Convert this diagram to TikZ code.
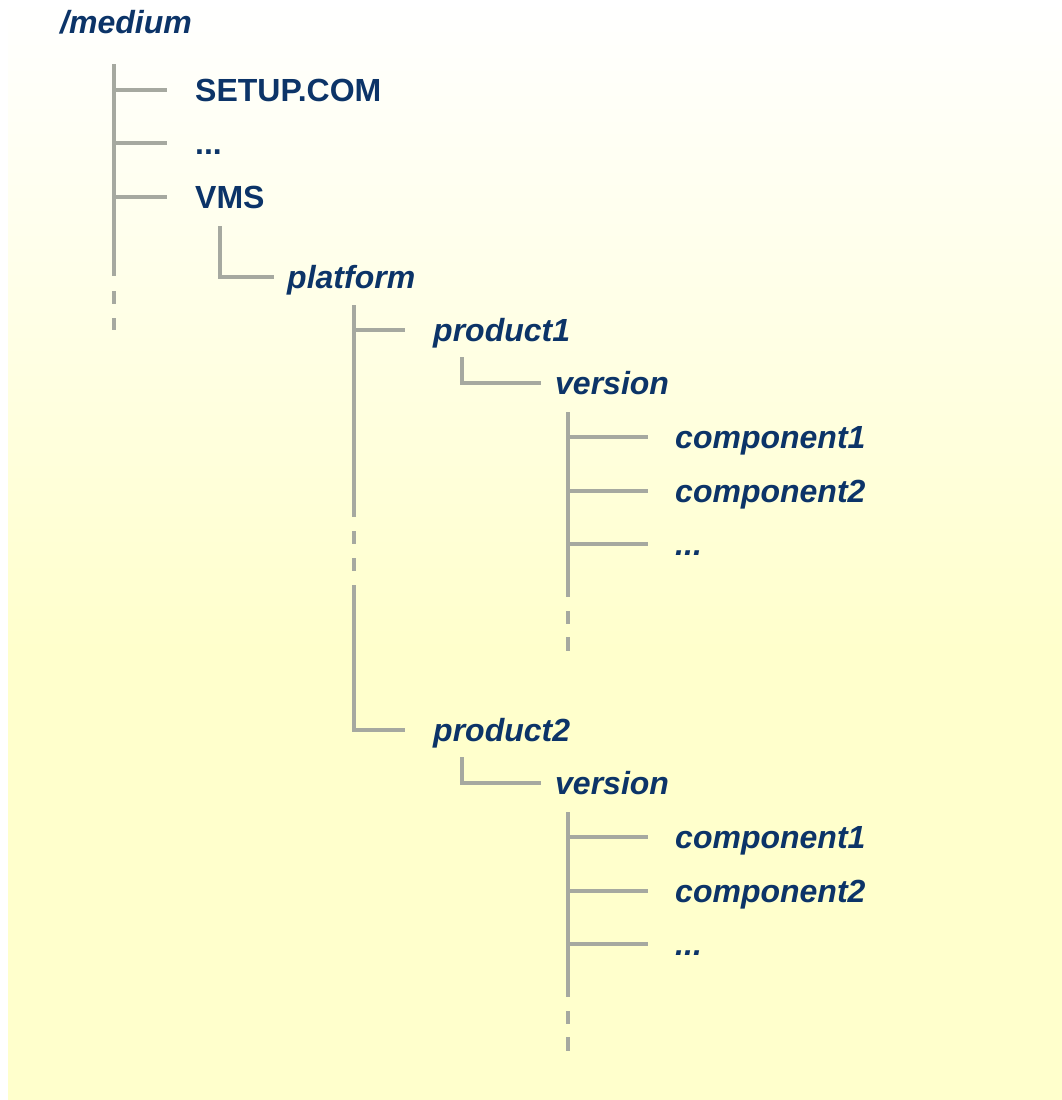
\documentclass[tikz,border=0pt]{standalone}
\usepackage{fontspec}
\setmainfont{Liberation Sans}
\usetikzlibrary{calc}
\definecolor{txt}{RGB}{12,52,104}
\definecolor{ln}{RGB}{166,169,160}
\definecolor{bgy}{RGB}{255,255,204}
\begin{document}
\begin{tikzpicture}[x=1pt,y=-1pt,
  lbl/.style={anchor=base west, inner sep=0pt, text=txt, font=\fontsize{32}{36}\selectfont\bfseries},
  ilbl/.style={lbl, font=\fontsize{32}{36}\selectfont\bfseries\itshape},
  br/.style={draw=ln, line width=4pt}]
\useasboundingbox (0,0) rectangle (1062,1100);
\shade[top color=white, bottom color=bgy] (8,0) rectangle (1062,650);
\fill[bgy] (8,649) rectangle (1062,1100);

% root level
\node[ilbl] (medium) at (60,33) {/medium};
\node[lbl] (setup) at (195,101) {SETUP.COM};
\node[lbl] (dots0) at (195,154) {...};
\node[lbl] (vms) at (195,208) {VMS};
\node[ilbl] (platform) at (287,288) {platform};

\coordinate (mtop) at (114,64);
\coordinate (mbot) at (114,276);
\draw[br] (mtop) -- (mbot);
\draw[br] ($(mbot)+(0,15)$) -- ($(mbot)+(0,28)$);
\draw[br] ($(mbot)+(0,42)$) -- ($(mbot)+(0,54)$);
\foreach \n in {setup,dots0,vms}
  \draw[br] ($(mtop |- \n.base)+(0,-11)$) -- ($(\n.base west)+(-28,-11)$);
\draw[br] ($(vms.base west)+(25,18)$) |- ($(platform.base west)+(-13,-11)$);

% products
\foreach \i/\dy in {1/0,2/400}{
  \node[ilbl] (prod\i) at (433,341+\dy) {product\i};
  \node[ilbl] (ver\i) at (555,394+\dy) {version};
  \node[ilbl] (c\i a) at (675,448+\dy) {component1};
  \node[ilbl] (c\i b) at (675,502+\dy) {component2};
  \node[ilbl] (d\i) at (675,555+\dy) {...};
  \draw[br] ($(prod\i.base west)+(29,16)$) |- ($(ver\i.base west)+(-14,-11)$);
  \coordinate (v\i top) at ($(ver\i.base west)+(13,18)$);
  \coordinate (v\i bot) at ($(ver\i.base west)+(13,203)$);
  \draw[br] (v\i top) -- (v\i bot);
  \draw[br] ($(v\i bot)+(0,14)$) -- ($(v\i bot)+(0,27)$);
  \draw[br] ($(v\i bot)+(0,40)$) -- ($(v\i bot)+(0,54)$);
  \foreach \n in {c\i a,c\i b,d\i}
    \draw[br] ($(v\i top |- \n.base)+(0,-11)$) -- ($(\n.base west)+(-27,-11)$);
}

% platform trunk
\coordinate (ptop) at ($(platform.base west)+(67,17)$);
\coordinate (pbrk) at ($(ptop)+(0,212)$);
\coordinate (pres) at ($(ptop)+(0,280)$);
\draw[br] (ptop) -- (pbrk);
\draw[br] ($(ptop)+(0,226)$) -- ($(ptop)+(0,239)$);
\draw[br] ($(ptop)+(0,253)$) -- ($(ptop)+(0,266)$);
\draw[br] ($(ptop |- prod1.base)+(0,-11)$) -- ($(prod1.base west)+(-28,-11)$);
\draw[br] (pres) |- ($(prod2.base west)+(-28,-11)$);
\end{tikzpicture}
\end{document}
